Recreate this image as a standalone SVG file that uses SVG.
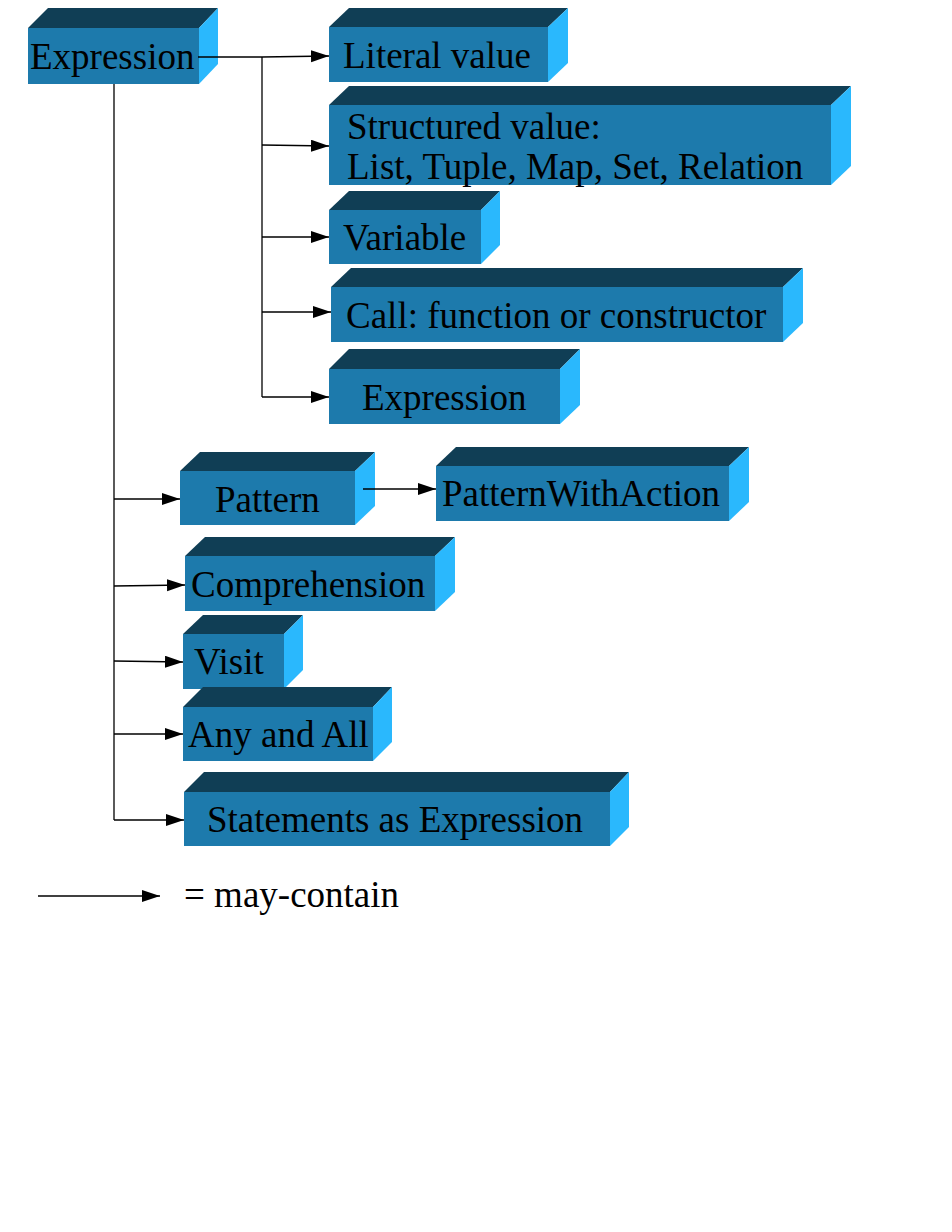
<svg xmlns="http://www.w3.org/2000/svg" width="952" height="1232" viewBox="0 0 952 1232">
<style>
.f{fill:#1d7aac}
.t{fill:#103e55}
.s{fill:#2ab8fd}
.l{font-family:"Liberation Serif","Times New Roman",serif;font-size:37px;fill:#000}
.c{fill:none;stroke:#000;stroke-width:1.3}
</style>
<defs>
<marker id="ah" markerUnits="userSpaceOnUse" markerWidth="19" markerHeight="13" refX="18" refY="6" orient="auto">
<path d="M0,0 L18,6 L0,12 z" fill="#000"/>
</marker>
</defs>
<rect width="952" height="1232" fill="#fff"/>
<g id="expression">
<rect class="f" x="28" y="28" width="171" height="56"/>
<polygon class="t" points="28,28 48,8 218,8 199,28"/>
<polygon class="s" points="199,28 218,8 218,64 199,84"/>
<text class="l" x="30" y="69">Expression</text>
</g>
<g id="literal">
<rect class="f" x="329" y="27" width="219" height="55"/>
<polygon class="t" points="329,27 349,8 568,8 548,27"/>
<polygon class="s" points="548,27 568,8 568,63 548,82"/>
<text class="l" x="343" y="68">Literal value</text>
</g>
<g id="structured">
<rect class="f" x="329" y="105" width="502" height="80"/>
<polygon class="t" points="329,105 349,86 851,86 831,105"/>
<polygon class="s" points="831,105 851,86 851,166 831,185"/>
<text class="l" x="347" y="139">Structured value:</text>
<text class="l" x="347" y="179">List, Tuple, Map, Set, Relation</text>
</g>
<g id="variable">
<rect class="f" x="329" y="210" width="152" height="54"/>
<polygon class="t" points="329,210 349,191 500,191 481,210"/>
<polygon class="s" points="481,210 500,191 500,245 481,264"/>
<text class="l" x="343" y="250">Variable</text>
</g>
<g id="call">
<rect class="f" x="331" y="287" width="452" height="55"/>
<polygon class="t" points="331,287 351,268 803,268 783,287"/>
<polygon class="s" points="783,287 803,268 803,323 783,342"/>
<text class="l" x="346" y="328">Call: function or constructor</text>
</g>
<g id="expression2">
<rect class="f" x="329" y="369" width="231" height="55"/>
<polygon class="t" points="329,369 349,349 580,349 560,369"/>
<polygon class="s" points="560,369 580,349 580,405 560,424"/>
<text class="l" x="362" y="410">Expression</text>
</g>
<g id="pattern">
<rect class="f" x="180" y="471" width="175" height="54"/>
<polygon class="t" points="180,471 200,452 375,452 355,471"/>
<polygon class="s" points="355,471 375,452 375,506 355,525"/>
<text class="l" x="215" y="512">Pattern</text>
</g>
<g id="patternwithaction">
<rect class="f" x="436" y="466" width="293" height="55"/>
<polygon class="t" points="436,466 456,447 749,447 729,466"/>
<polygon class="s" points="729,466 749,447 749,502 729,521"/>
<text class="l" x="442" y="506">PatternWithAction</text>
</g>
<g id="comprehension">
<rect class="f" x="185" y="556" width="250" height="55"/>
<polygon class="t" points="185,556 205,537 455,537 435,556"/>
<polygon class="s" points="435,556 455,537 455,592 435,611"/>
<text class="l" x="191" y="597">Comprehension</text>
</g>
<g id="visit">
<rect class="f" x="183" y="634" width="101" height="55"/>
<polygon class="t" points="183,634 203,615 303,615 284,634"/>
<polygon class="s" points="284,634 303,615 303,670 284,689"/>
<text class="l" x="194" y="674">Visit</text>
</g>
<g id="anyandall">
<rect class="f" x="183" y="707" width="190" height="54"/>
<polygon class="t" points="183,707 203,687 392,687 373,707"/>
<polygon class="s" points="373,707 392,687 392,742 373,761"/>
<text class="l" x="188" y="747">Any and All</text>
</g>
<g id="statements">
<rect class="f" x="184" y="792" width="426" height="54"/>
<polygon class="t" points="184,792 204,772 629,772 610,792"/>
<polygon class="s" points="610,792 629,772 629,827 610,846"/>
<text class="l" x="207" y="832">Statements as Expression</text>
</g>
<g id="connectors" class="c">
<path d="M198,57 H262 L329,56" marker-end="url(#ah)"/>
<path d="M262,57 V397"/>
<path d="M262,145 L329,146" marker-end="url(#ah)"/>
<path d="M262,237 L329,237" marker-end="url(#ah)"/>
<path d="M262,312 L331,312" marker-end="url(#ah)"/>
<path d="M262,397 L329,397" marker-end="url(#ah)"/>
<path d="M114,84 V820"/>
<path d="M114,499 L180,499" marker-end="url(#ah)"/>
<path d="M114,586 L185,585" marker-end="url(#ah)"/>
<path d="M114,661 L183,662" marker-end="url(#ah)"/>
<path d="M114,734 L183,734" marker-end="url(#ah)"/>
<path d="M114,820 L184,820" marker-end="url(#ah)"/>
<path d="M363,489 L436,489" marker-end="url(#ah)"/>
<path d="M38,896 L160,896" marker-end="url(#ah)"/>
</g>
<g id="legend">
<text class="l" x="184" y="907">= may-contain</text>
</g>
</svg>
